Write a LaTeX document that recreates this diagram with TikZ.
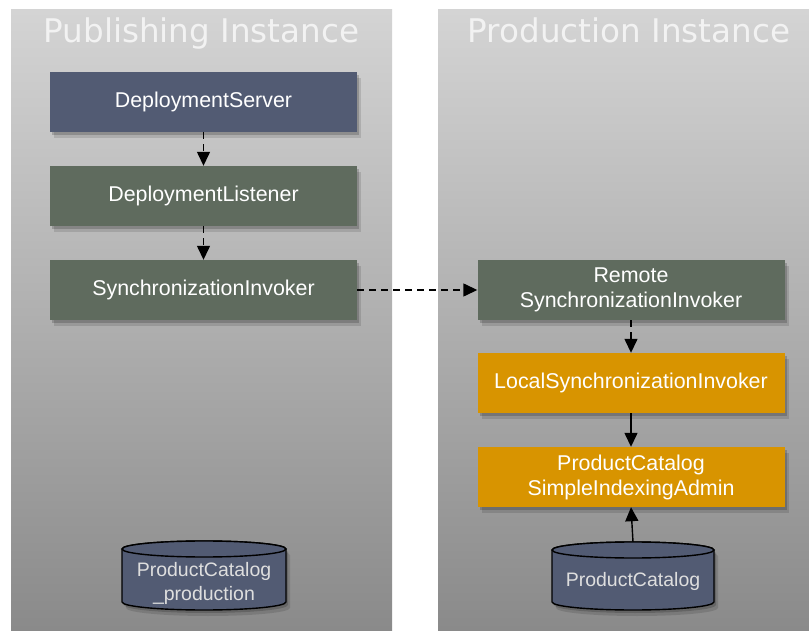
\documentclass[tikz,border=0pt]{standalone}
\usepackage{fontspec}
\setmainfont{Liberation Sans}
\newfontfamily\titlefont{DejaVu Sans}
\usetikzlibrary{arrows.meta,shadows}
\definecolor{slateblue}{RGB}{82,91,115}
\definecolor{sagegray}{RGB}{95,107,94}
\definecolor{amber}{RGB}{216,148,0}
\definecolor{paneltop}{RGB}{212,212,212}
\definecolor{panelbottom}{RGB}{138,138,138}
\definecolor{titlegray}{RGB}{242,242,242}
\definecolor{dbtext}{RGB}{222,222,222}
\begin{document}
\begin{tikzpicture}[x=1pt,y=1pt,
  panel/.style={top color=paneltop,bottom color=panelbottom,draw=none},
  paneltitle/.style={anchor=base,text=titlegray,font=\titlefont\fontsize{32.6}{36}\selectfont},
  softshadow/.style={
    drop shadow={shadow xshift=2pt,shadow yshift=-3pt,opacity=.18,fill=black},
    drop shadow={shadow xshift=4pt,shadow yshift=-6pt,opacity=.12,fill=black}},
  box/.style={minimum width=307pt,minimum height=60pt,inner sep=0pt,text=white,
    align=center,font=\fontsize{21.4}{25}\selectfont,softshadow},
  bluebox/.style={box,fill=slateblue},
  greenbox/.style={box,fill=sagegray},
  orangebox/.style={box,fill=amber},
  dbspot/.style={minimum width=164pt,minimum height=69pt,inner sep=0pt},
  dblabel/.style={text=dbtext,align=center,font=\fontsize{19.5}{24}\selectfont},
  dbbody/.style={fill=slateblue,draw=black,line width=1.4pt},
  flow/.style={line width=1.4pt,-{Triangle[length=14pt,width=13pt]}},
  dashflow/.style={flow,dash pattern=on 7pt off 5pt}]
\useasboundingbox (0,0) rectangle (809,630);
\fill[white] (0,0) rectangle (809,630);

% the two instances
\path[panel] (11,0) rectangle (392,620);
\path[panel] (438,0) rectangle (809,620);
\node[paneltitle] (pubtitle) at (201.5,587) {Publishing Instance};
\node[paneltitle] (prodtitle) at (629,587) {Production Instance};

% publishing side
\node[bluebox]  (server)   at (203.5,528) {DeploymentServer};
\node[greenbox] (listener) at (203.5,434) {DeploymentListener};
\node[greenbox] (invoker)  at (203.5,340) {SynchronizationInvoker};

% production side
\node[greenbox]  (remote) at (631,340) {Remote\\SynchronizationInvoker};
\node[orangebox] (local)  at (631,247) {LocalSynchronizationInvoker};
\node[orangebox] (admin)  at (631,153) {ProductCatalog\\SimpleIndexingAdmin};

% databases
\path[dbbody,softshadow] (122,81) -- (122,28)
  arc[start angle=180,end angle=360,x radius=82pt,y radius=8pt] -- (286,81)
  arc[start angle=0,end angle=180,x radius=82pt,y radius=8pt] -- cycle;
\draw[dbbody] (204,81) ellipse[x radius=82pt,y radius=8pt];
\node[dbspot] (pubdb) at (204,54.5) {};
\node[dblabel] (pubdblabel) at (204,47) {ProductCatalog\\\_production};

\path[dbbody,softshadow] (552,80) -- (552,28)
  arc[start angle=180,end angle=360,x radius=81pt,y radius=8pt] -- (714,80)
  arc[start angle=0,end angle=180,x radius=81pt,y radius=8pt] -- cycle;
\draw[dbbody] (633,80) ellipse[x radius=81pt,y radius=8pt];
\node[dbspot,minimum width=162pt,minimum height=68pt] (proddb) at (633,54) {};
\node[dblabel] (proddblabel) at (633,49) {ProductCatalog};

% connectors
\draw[dashflow] (server.south) -- (listener.north);
\draw[dashflow] (listener.south) -- (invoker.north);
\draw[dashflow] (invoker.east) -- (remote.west);
\draw[dashflow] (remote.south) -- (local.north);
\draw[flow] (local.south) -- (admin.north);
\draw[flow] (proddb.north) -- (admin.south);
\end{tikzpicture}
\end{document}
